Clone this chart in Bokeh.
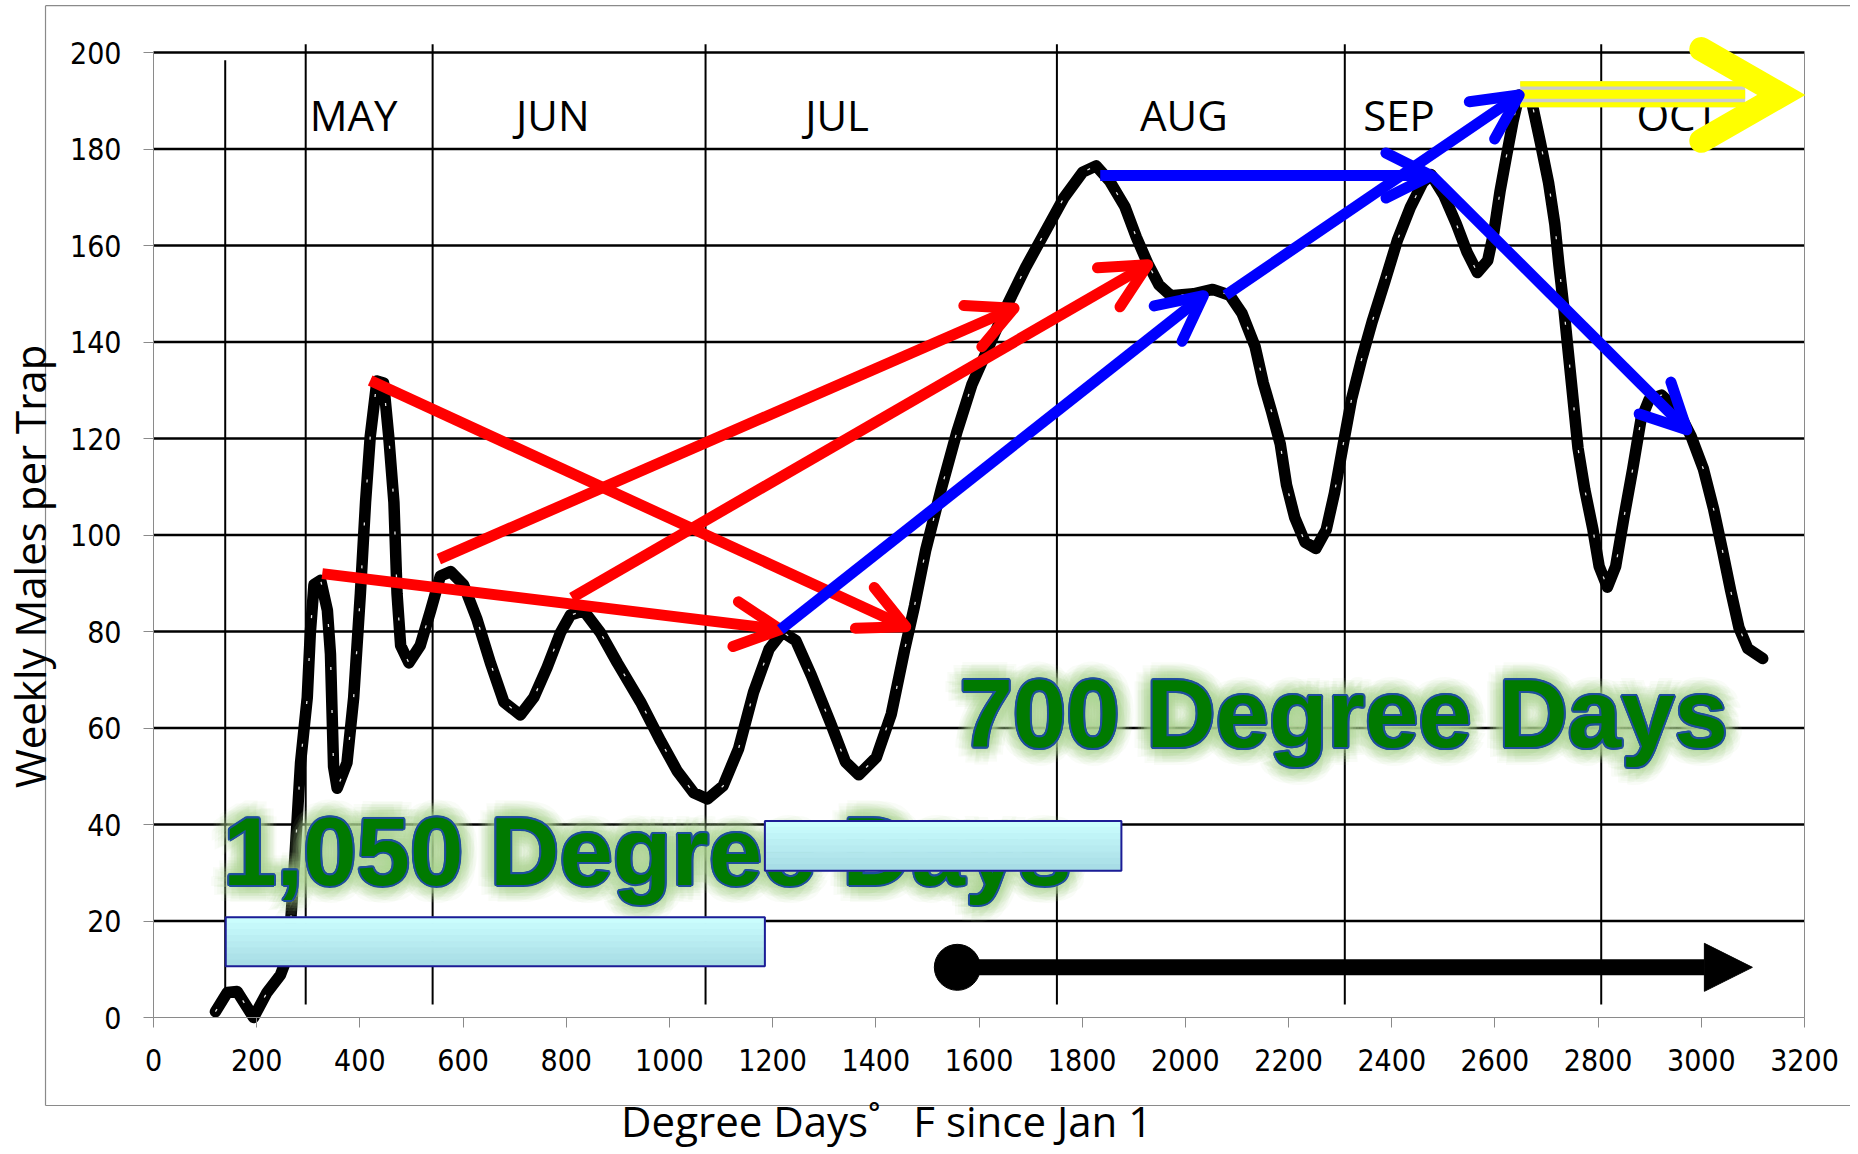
import math
from bokeh.plotting import figure
from bokeh.models import (Range1d, FixedTicker, ColumnDataSource, Arrow, OpenHead,
                          NormalHead, Label)
from bokeh.core.properties import value
from bokeh.embed import file_html
from bokeh.resources import INLINE

# ---------------- data ----------------
degree_days = [120, 143, 162, 194, 220, 246, 262, 275, 285, 298,
               304, 311, 324, 337, 343, 346, 349, 356, 375, 388,
               401, 411, 420, 433, 446, 456, 466, 472, 479, 495,
               517, 537, 556, 576, 601, 627, 653, 679, 711, 737,
               763, 789, 808, 834, 866, 899, 944, 983, 1015, 1047,
               1074, 1104, 1134, 1163, 1193, 1219, 1245, 1275, 1312, 1341,
               1367, 1401, 1430, 1456, 1475, 1497, 1527, 1557, 1586, 1616,
               1653, 1690, 1727, 1764, 1801, 1827, 1853, 1883, 1905, 1927,
               1949, 1972, 2016, 2053, 2086, 2110, 2135, 2151, 2167, 2184,
               2196, 2212, 2232, 2253, 2273, 2289, 2306, 2322, 2342, 2362,
               2387, 2411, 2436, 2460, 2476, 2501, 2525, 2546, 2566, 2586,
               2598, 2610, 2623, 2635, 2647, 2671, 2688, 2704, 2716, 2724,
               2733, 2741, 2749, 2761, 2774, 2790, 2802, 2818, 2834, 2850,
               2867, 2883, 2899, 2923, 2956, 2980, 3004, 3024, 3041, 3057,
               3073, 3090, 3119]
weekly_males = [1.2, 5.2, 5.4, 0, 5.2, 8.8, 13.3, 34.9, 52.8, 66.3,
                79.8, 89.7, 90.6, 84.4, 75.3, 63.6, 52, 47.5, 52.8, 66.3,
                87.9, 106.8, 120.3, 131.9, 131.5, 120.3, 106.8, 87.9, 77.1, 73.5,
                77.1, 84.3, 91.5, 92.4, 89.7, 82.5, 73.5, 65.4, 62.7, 66.3,
                72.6, 79.8, 83.4, 84.3, 79.8, 73.5, 65.4, 57.3, 51.1, 46.6,
                45.3, 48, 55.7, 67.4, 76.3, 79.9, 78.1, 70.9, 61.1, 53,
                50.3, 53.9, 62.9, 76.3, 85.3, 97, 109.6, 121.3, 131.1, 138.3,
                147.3, 155.4, 162.6, 169.8, 175.2, 176.5, 173.4, 168, 161.7, 156.3,
                151.8, 149.6, 150, 150.9, 149.7, 145.9, 139.1, 131.5, 125.6, 118.8,
                110.4, 103.6, 98.5, 97.2, 101.1, 108.7, 118.8, 128.1, 136.6, 144.2,
                152.7, 161.1, 167.9, 173, 174.7, 170.4, 164.5, 158.6, 154.4, 156.9,
                162.8, 171.3, 178.9, 185.7, 191.2, 189.9, 181.4, 173, 164.5, 156,
                147.6, 139.1, 130.7, 118, 109.5, 101.1, 93.5, 89.2, 93.5, 103.6,
                113.7, 123.9, 128.1, 129, 125.6, 120.5, 113.7, 105.3, 96.8, 88.4,
                80.8, 76.5, 74.4]

y_ticks = [0, 20, 40, 60, 80, 100, 120, 140, 160, 180, 200]
x_ticks = [0, 200, 400, 600, 800, 1000, 1200, 1400, 1600, 1800, 2000,
           2200, 2400, 2600, 2800, 3000, 3200]

month_names = ["MAY", "JUN", "JUL", "AUG", "SEP", "OCT"]
month_label_x = [388, 774, 1325, 1997, 2414, 2954]
month_label_y = 187.2
month_line_x = [139, 295, 541, 1070, 1751, 2309, 2806]
month_line_top = [198.4, 201.7, 201.7, 201.7, 201.7, 201.7, 201.7]
month_line_bottom = 2.7

# red arrows (start -> end)
red_x0 = [420, 327, 553, 811]
red_y0 = [132, 92, 95, 87]
red_x1 = [1458, 1215, 1668, 1927]
red_y1 = [81, 80.4, 147, 156]

# blue arrows
blue_x0 = [1215, 2078, 1835, 2478]
blue_y0 = [80.4, 149.7, 174.5, 174.5]
blue_x1 = [2035, 2647, 2476, 2972]
blue_y1 = [149.6, 191.2, 174.5, 121.8]

# yellow arrow
yellow_x0 = 2649
yellow_x1 = 3085
yellow_band_y = [193.5, 191.33, 189.18]
yellow_band_w = [5.3, 9, 5]
yellow_head_x = [3000, 3155, 3000]
yellow_head_y = [200.7, 191.2, 181.7]

# degree-day boxes
box_left = [140, 1185]
box_right = [1185, 1876]
box_bottom = [10.6, 30.4]
box_top = [20.8, 40.7]

# big annotation texts
big_texts = ["1,050 Degree Days", "700 Degree Days"]
big_text_x = [135, 1562]
big_text_y = [34.5, 63.0]

# bottom black arrow
black_arrow_x0, black_arrow_x1, black_arrow_y = 1558, 3099, 10.4

# outer chart border (in data units)
border_left, border_top, border_bottom, border_right = -209.3, 209.7, -18.24, 3400

# ---------------- figure ----------------
W, H = 1850, 1152
KX = 1651 / 3200.0
KY = 965 / 200.0
X0PX, Y0PX = 153, 1017
x_start = -X0PX / KX
x_end = (W - X0PX) / KX
y_end = Y0PX / KY
y_start = -(H - Y0PX) / KY

p = figure(frame_width=W, frame_height=H,
           x_range=Range1d(x_start, x_end), y_range=Range1d(y_start, y_end),
           min_border=0, min_border_left=0, min_border_right=0,
           min_border_top=0, min_border_bottom=0,
           output_backend="svg", toolbar_location=None,
           background_fill_color="white", border_fill_color="white",
           outline_line_color=None)
p.xgrid.visible = False
p.ygrid.visible = False

AX_GRAY = "#8a8a8a"
for ax in (p.xaxis, p.yaxis):
    ax.fixed_location = 0
    ax.axis_line_color = AX_GRAY
    ax.axis_line_width = 1
    ax.major_tick_line_color = AX_GRAY
    ax.major_tick_out = 10
    ax.major_tick_in = 0
    ax.minor_tick_line_color = None
    ax.major_label_text_font = "DejaVu Sans Condensed"
    ax.major_label_text_font_size = "30px"
    ax.major_label_text_color = "black"
p.xaxis.ticker = FixedTicker(ticks=x_ticks)
p.yaxis.ticker = FixedTicker(ticks=y_ticks)
p.xaxis.bounds = (0, 3200)
p.yaxis.bounds = (0, 200)
p.xaxis.major_label_standoff = 21
p.yaxis.major_label_standoff = 22

# outer chart border
p.segment(x0=[border_left, border_left, border_left],
          x1=[border_left, border_right, border_right],
          y0=[border_bottom, border_top, border_bottom],
          y1=[border_top, border_top, border_bottom],
          line_color=AX_GRAY, line_width=1.2)

# horizontal gridlines
grid_src = ColumnDataSource(dict(y=y_ticks[1:], x0=[0] * 10, x1=[3200] * 10))
p.segment(x0="x0", x1="x1", y0="y", y1="y", source=grid_src,
          line_color="black", line_width=2.5)
# right plot border
p.segment(x0=[3200], x1=[3200], y0=[0], y1=[200], line_color=AX_GRAY, line_width=1)
# month lines and labels
p.segment(x0=month_line_x, x1=month_line_x, y0=[month_line_bottom] * 7,
          y1=month_line_top, line_color="black", line_width=2)
p.text(x=month_label_x, y=[month_label_y] * 6, text=month_names,
       text_font=value("Open Sans"), text_font_size="42px",
       text_align="center", text_baseline="alphabetic", text_color="black")

# trap counts curve
p.line(degree_days, weekly_males, line_color="black", line_width=11.5,
       line_join="round", line_cap="round")
p.line(degree_days, weekly_males, line_color="white", line_width=1.3,
       line_dash="3 40", line_alpha=0.9)

# big glowing labels: glow, blue outline, green fill
gx, gy, gt, gox, goy = [], [], [], [], []
for i in range(2):
    for r in (3, 6, 9, 12, 15, 18):
        for k in range(12):
            a = 2 * math.pi * k / 12 + r * 0.2
            gx.append(big_text_x[i]); gy.append(big_text_y[i]); gt.append(big_texts[i])
            gox.append(r * math.cos(a)); goy.append(r * math.sin(a))
glow_src = ColumnDataSource(dict(x=gx, y=gy, t=gt, ox=gox, oy=goy))
p.text(x="x", y="y", text="t", x_offset="ox", y_offset="oy", source=glow_src,
       text_font=value("Liberation Sans"), text_font_style="bold",
       text_font_size="96px", text_color="#b5d88d", text_alpha=0.075,
       text_baseline="alphabetic", text_align="left")
ox_, oy_, ot_, otx, oty = [], [], [], [], []
for i in range(2):
    for k in range(12):
        a = 2 * math.pi * k / 12
        ox_.append(big_text_x[i]); oy_.append(big_text_y[i]); ot_.append(big_texts[i])
        otx.append(2.0 * math.cos(a)); oty.append(2.0 * math.sin(a))
outline_src = ColumnDataSource(dict(x=ox_, y=oy_, t=ot_, ox=otx, oy=oty))
p.text(x="x", y="y", text="t", x_offset="ox", y_offset="oy", source=outline_src,
       text_font=value("Liberation Sans"), text_font_style="bold",
       text_font_size="96px", text_color="#1f4e9e",
       text_baseline="alphabetic", text_align="left")
p.text(x=big_text_x, y=big_text_y, text=big_texts,
       text_font=value("Liberation Sans"), text_font_style="bold",
       text_font_size="96px", text_color="#007a00",
       text_baseline="alphabetic", text_align="left")

# degree-day boxes with vertical gradient
top_c = (204, 255, 255)
bot_c = (166, 219, 228)
nb = 8
for j in range(nb):
    f0 = j / nb
    f1 = (j + 1) / nb
    c = tuple(int(round(top_c[k] + (bot_c[k] - top_c[k]) * (j + 0.5) / nb)) for k in range(3))
    col = "#%02x%02x%02x" % c
    p.quad(left=box_left, right=box_right,
           top=[t - (t - b) * f0 for t, b in zip(box_top, box_bottom)],
           bottom=[t - (t - b) * f1 for t, b in zip(box_top, box_bottom)],
           fill_color=col, line_color=col, line_width=1)
p.quad(left=box_left, right=box_right, top=box_top, bottom=box_bottom,
       fill_color=None, line_color="#1c1c96", line_width=2)

# yellow double arrow
p.segment(x0=[yellow_x0], x1=[yellow_x1], y0=[191.35], y1=[191.35],
          line_color="#cccccc", line_width=26)
p.segment(x0=[yellow_x0] * 3, x1=[yellow_x1] * 3, y0=yellow_band_y, y1=yellow_band_y,
          line_color="#ffff00", line_width=yellow_band_w)
p.line(yellow_head_x, yellow_head_y, line_color="#ffff00", line_width=24,
       line_cap="round", line_join="miter")

# red & blue arrows
red_src = ColumnDataSource(dict(x0=red_x0, y0=red_y0, x1=red_x1, y1=red_y1))
blue_src = ColumnDataSource(dict(x0=blue_x0, y0=blue_y0, x1=blue_x1, y1=blue_y1))
for src, colr in ((red_src, "#ff0000"), (blue_src, "#0000ff")):
    p.add_layout(Arrow(x_start="x0", y_start="y0", x_end="x1", y_end="y1", source=src,
                       line_color=colr, line_width=11,
                       end=OpenHead(size=45, line_color=colr, line_width=11,
                                    line_cap="round", line_join="round")))

# bottom black arrow
p.scatter(x=[black_arrow_x0], y=[black_arrow_y], size=46, color="black")
p.add_layout(Arrow(x_start=black_arrow_x0, y_start=black_arrow_y,
                   x_end=black_arrow_x1, y_end=black_arrow_y,
                   line_color="black", line_width=16,
                   end=NormalHead(size=48, fill_color="black", line_color="black")))

# axis titles
p.add_layout(Label(x=-240, y=93.5, text="Weekly Males per Trap", angle=math.pi / 2,
                   text_font="Open Sans", text_font_size="42px", text_color="black",
                   text_align="center", text_baseline="alphabetic"))
p.add_layout(Label(x=1421, y=-21.4, text="Degree Days\u02da\u00a0\u00a0\u00a0F since Jan 1",
                   text_font="Open Sans", text_font_size="42px", text_color="black",
                   text_align="center", text_baseline="alphabetic"))

open("out.html", "w").write(file_html(p, INLINE))
